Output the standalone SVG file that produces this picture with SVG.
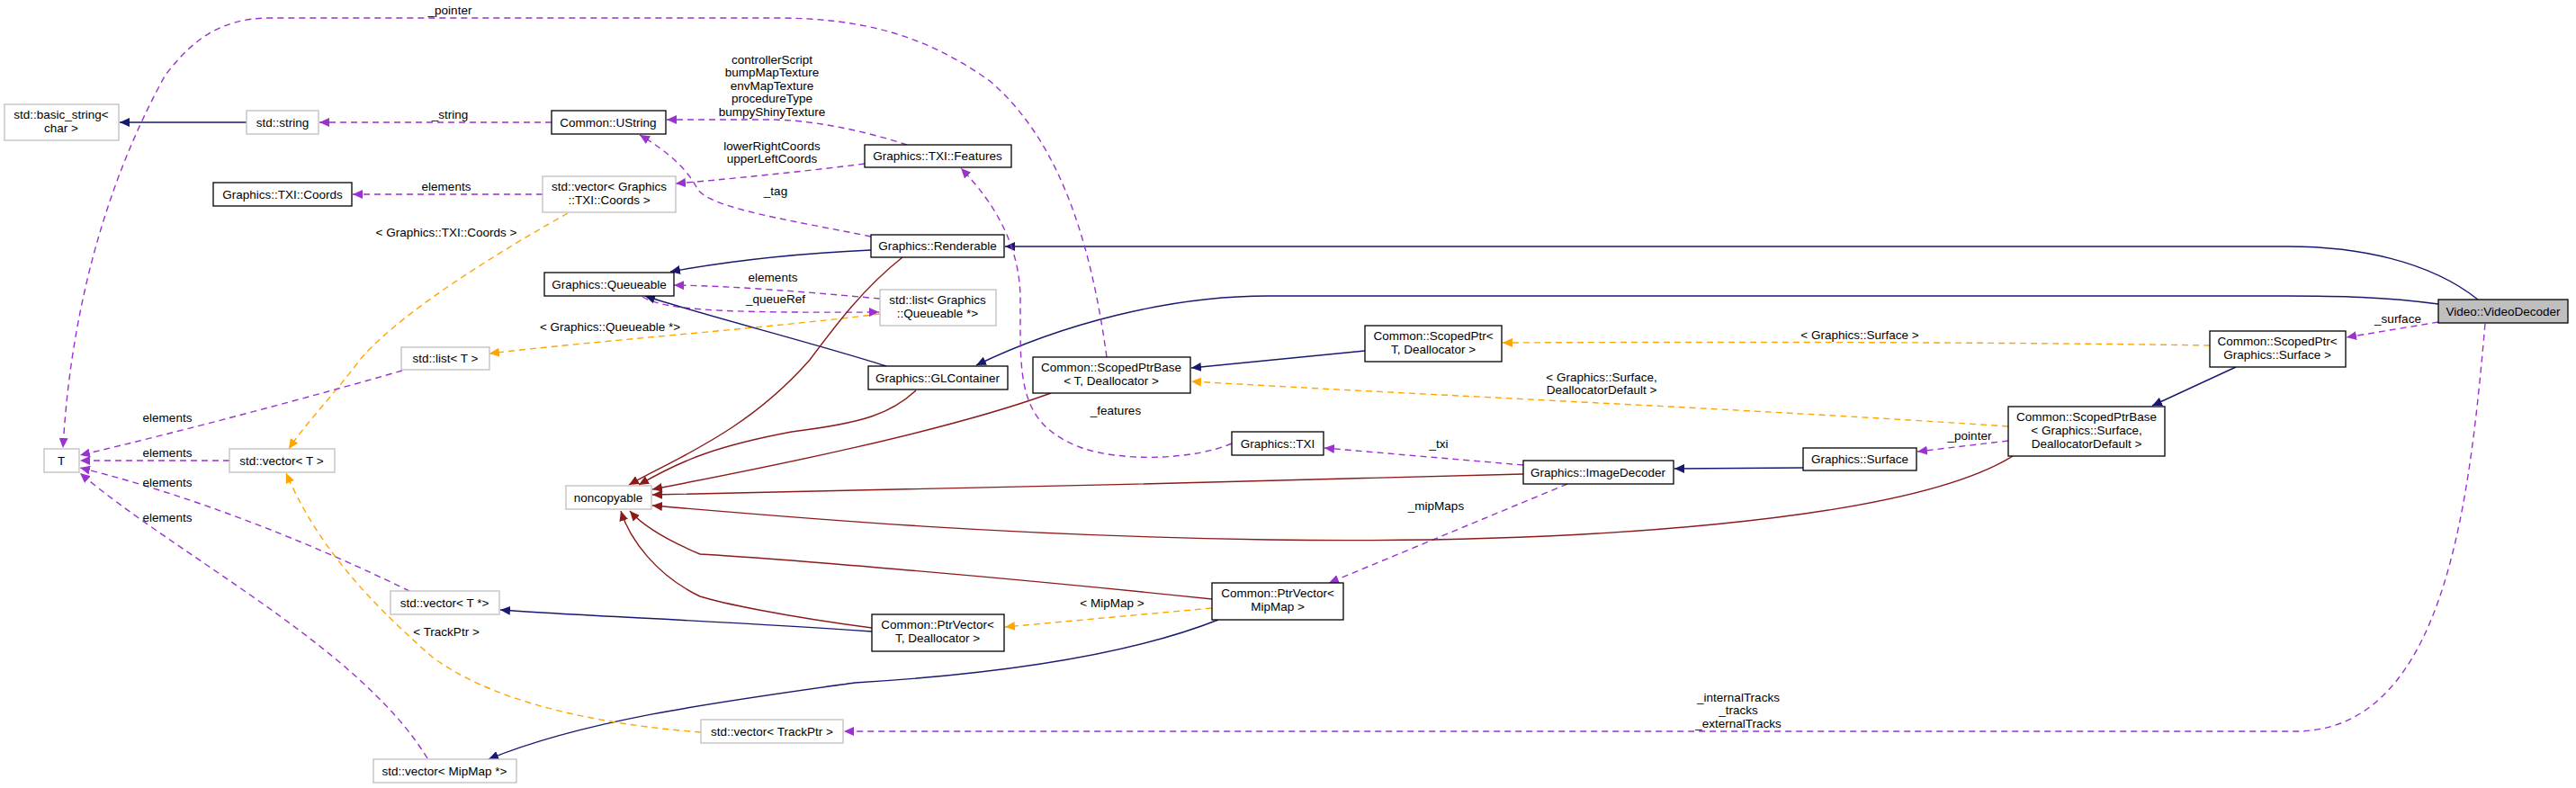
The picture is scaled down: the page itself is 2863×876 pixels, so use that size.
<svg xmlns="http://www.w3.org/2000/svg" width="2863" height="876" viewBox="0 0 2863 876">
<style>
text{font-family:"Liberation Sans",Arial,sans-serif;font-size:13.5px;fill:#000;text-anchor:middle}
.n rect{fill:#fff;stroke:#000;stroke-width:1.3}
.g rect{fill:#fff;stroke:#bfbfbf;stroke-width:1.3}
.cur rect{fill:#bfbfbf;stroke:#000;stroke-width:1.3}
.e{fill:none;stroke-width:1.4}
.nv{stroke:#191970;marker-end:url(#aN)}
.rd{stroke:#8b1a1a;marker-end:url(#aR)}
.pu{stroke:#9a32cd;stroke-dasharray:7,5;marker-end:url(#aP)}
.or{stroke:#ffa500;stroke-dasharray:7,5;marker-end:url(#aO)}
</style>
<defs>
<marker id="aN" markerWidth="12" markerHeight="10" refX="11" refY="5" orient="auto" markerUnits="userSpaceOnUse"><path d="M0,0L11,5L0,10z" fill="#191970"/></marker>
<marker id="aR" markerWidth="12" markerHeight="10" refX="11" refY="5" orient="auto" markerUnits="userSpaceOnUse"><path d="M0,0L11,5L0,10z" fill="#8b1a1a"/></marker>
<marker id="aP" markerWidth="12" markerHeight="10" refX="11" refY="5" orient="auto" markerUnits="userSpaceOnUse"><path d="M0,0L11,5L0,10z" fill="#9a32cd"/></marker>
<marker id="aO" markerWidth="12" markerHeight="10" refX="11" refY="5" orient="auto" markerUnits="userSpaceOnUse"><path d="M0,0L11,5L0,10z" fill="#ffa500"/></marker>
</defs>
<rect width="2863" height="876" fill="#fff"/>
<g id="edges">
<path class="e nv" d="M274,136L133,136"/>
<path class="e pu" d="M613,136L355,136"/>
<path class="e pu" d="M1008,161C960,145 900,133 857,133C800,133 770,133 741,133"/>
<path class="e pu" d="M961,182C900,190 800,200 751,204"/>
<path class="e pu" d="M968,263C880,245 790,232 775,210C765,190 745,170 711,150"/>
<path class="e pu" d="M603,216L392,216"/>
<path class="e or" d="M631,237C590,260 450,340 400,400C370,440 340,470 321,499"/>
<path class="e nv" d="M968,278C880,282 800,292 745,302"/>
<path class="e pu" d="M978,332C900,325 820,318 749,317"/>
<path class="e pu" d="M714,330C740,345 800,348 977,347"/>
<path class="e or" d="M978,349C850,365 650,380 544,393"/>
<path class="e nv" d="M985,407C900,380 780,350 717,329"/>
<path class="e nv" d="M2754,333C2700,290 2620,274 2543,274L1117,274"/>
<path class="e nv" d="M2710,338C2650,330 2600,329 2537,329L1409,329C1300,329 1180,360 1085,406"/>
<path class="e nv" d="M1517,390L1324,409"/>
<path class="e or" d="M2456,384C2200,380 1900,380 1670,381"/>
<path class="e or" d="M2232,474C1950,455 1600,440 1324,424"/>
<path class="e nv" d="M2485,408L2392,451"/>
<path class="e pu" d="M2710,358L2608,375"/>
<path class="e pu" d="M2232,490L2131,502"/>
<path class="e pu" d="M1230,397C1210,250 1170,150 1100,90C1030,40 960,20 863,20L300,20C240,20 210,50 184,83C130,180 80,320 70,498"/>
<path class="e pu" d="M1369,493C1330,510 1250,515 1200,497C1130,470 1134,420 1134,333C1134,260 1090,210 1068,187"/>
<path class="e pu" d="M1693,517L1472,498"/>
<path class="e nv" d="M2004,520L1861,521"/>
<path class="e pu" d="M1742,538L1477,648"/>
<path class="e or" d="M1347,676L1117,697"/>
<path class="e nv" d="M969,702C800,690 650,685 556,678"/>
<path class="e nv" d="M1354,689C1250,730 1100,750 950,759C800,780 650,800 543,844"/>
<path class="e pu" d="M455,657C400,630 250,560 89,520"/>
<path class="e pu" d="M255,512L89,512"/>
<path class="e pu" d="M447,412C350,440 200,480 89,506"/>
<path class="e pu" d="M475,843C400,720 200,620 89,526"/>
<path class="e or" d="M779,814C700,808 560,790 480,730C400,660 350,600 318,526"/>
<path class="e pu" d="M2762,360C2745,550 2720,813 2551,813L938,813"/>
<path class="e rd" d="M1003,286C960,320 930,360 900,400C830,480 750,510 699,539"/>
<path class="e rd" d="M1018,434C990,460 960,470 880,480C800,495 760,510 710,539"/>
<path class="e rd" d="M1168,437C1050,480 850,520 725,544"/>
<path class="e rd" d="M1693,527C1400,535 1000,545 725,550"/>
<path class="e rd" d="M2237,507C2120,580 1750,605 1410,600C1100,595 880,575 725,562"/>
<path class="e rd" d="M1347,666C1100,640 850,620 778,616C740,600 715,585 700,568"/>
<path class="e rd" d="M969,698C870,685 800,670 778,663C730,640 700,600 690,568"/>
</g>
<g id="basic_string" class="g"><rect x="5" y="116" width="127" height="40"/><text x="68" y="132">std::basic_string&lt;</text><text x="68" y="147">char &gt;</text></g>
<g id="std_string" class="g"><rect x="274" y="123" width="80" height="26"/><text x="314" y="141">std::string</text></g>
<g id="UString" class="n"><rect x="613" y="123" width="127" height="26"/><text x="676" y="141">Common::UString</text></g>
<g id="TXICoords" class="n"><rect x="237" y="203" width="154" height="26"/><text x="314" y="221">Graphics::TXI::Coords</text></g>
<g id="vecCoords" class="g"><rect x="603" y="196" width="148" height="40"/><text x="677" y="212">std::vector&lt; Graphics</text><text x="677" y="227">::TXI::Coords &gt;</text></g>
<g id="Queueable" class="n"><rect x="605" y="303" width="144" height="26"/><text x="677" y="321">Graphics::Queueable</text></g>
<g id="listT" class="g"><rect x="446" y="386" width="98" height="25"/><text x="495" y="403">std::list&lt; T &gt;</text></g>
<g id="T" class="g"><rect x="49" y="499" width="39" height="26"/><text x="68" y="517">T</text></g>
<g id="vecT" class="g"><rect x="255" y="499" width="117" height="26"/><text x="313" y="517">std::vector&lt; T &gt;</text></g>
<g id="noncopyable" class="g"><rect x="629" y="540" width="95" height="26"/><text x="676" y="558">noncopyable</text></g>
<g id="vecTptr" class="g"><rect x="434" y="657" width="121" height="26"/><text x="494" y="675">std::vector&lt; T *&gt;</text></g>
<g id="vecTrackPtr" class="g"><rect x="779" y="800" width="158" height="26"/><text x="858" y="818">std::vector&lt; TrackPtr &gt;</text></g>
<g id="vecMipMap" class="g"><rect x="415" y="844" width="159" height="26"/><text x="494" y="862">std::vector&lt; MipMap *&gt;</text></g>
<g id="TXIFeatures" class="n"><rect x="961" y="161" width="163" height="25"/><text x="1042" y="178">Graphics::TXI::Features</text></g>
<g id="Renderable" class="n"><rect x="968" y="261" width="148" height="25"/><text x="1042" y="278">Graphics::Renderable</text></g>
<g id="listQueueable" class="g"><rect x="978" y="322" width="129" height="40"/><text x="1042" y="338">std::list&lt; Graphics</text><text x="1042" y="353">::Queueable *&gt;</text></g>
<g id="GLContainer" class="n"><rect x="965" y="407" width="155" height="26"/><text x="1042" y="425">Graphics::GLContainer</text></g>
<g id="ScopedPtrBaseT" class="n"><rect x="1148" y="397" width="175" height="40"/><text x="1235" y="413">Common::ScopedPtrBase</text><text x="1235" y="428">&lt; T, Deallocator &gt;</text></g>
<g id="ScopedPtrT" class="n"><rect x="1517" y="362" width="152" height="40"/><text x="1593" y="378">Common::ScopedPtr&lt;</text><text x="1593" y="393">T, Deallocator &gt;</text></g>
<g id="TXI" class="n"><rect x="1369" y="480" width="102" height="26"/><text x="1420" y="498">Graphics::TXI</text></g>
<g id="ImageDecoder" class="n"><rect x="1693" y="512" width="167" height="26"/><text x="1776" y="530">Graphics::ImageDecoder</text></g>
<g id="PtrVectorMipMap" class="n"><rect x="1347" y="648" width="146" height="41"/><text x="1420" y="664">Common::PtrVector&lt;</text><text x="1420" y="679">MipMap &gt;</text></g>
<g id="PtrVectorT" class="n"><rect x="969" y="683" width="147" height="41"/><text x="1042" y="699">Common::PtrVector&lt;</text><text x="1042" y="714">T, Deallocator &gt;</text></g>
<g id="Surface" class="n"><rect x="2004" y="498" width="126" height="25"/><text x="2067" y="515">Graphics::Surface</text></g>
<g id="ScopedPtrBaseSurface" class="n"><rect x="2232" y="452" width="174" height="55"/><text x="2319" y="468">Common::ScopedPtrBase</text><text x="2319" y="483">&lt; Graphics::Surface,</text><text x="2319" y="498">DeallocatorDefault &gt;</text></g>
<g id="ScopedPtrSurface" class="n"><rect x="2456" y="368" width="151" height="40"/><text x="2531" y="384">Common::ScopedPtr&lt;</text><text x="2531" y="399">Graphics::Surface &gt;</text></g>
<g id="VideoDecoder" class="cur"><rect x="2710" y="333" width="144" height="26"/><text x="2782" y="351">Video::VideoDecoder</text></g>
<g id="labels">
<text x="500" y="16">_pointer</text>
<text x="500" y="132">_string</text>
<text x="858" y="71">controllerScript</text>
<text x="858" y="85">bumpMapTexture</text>
<text x="858" y="100">envMapTexture</text>
<text x="858" y="114">procedureType</text>
<text x="858" y="129">bumpyShinyTexture</text>
<text x="858" y="167">lowerRightCoords</text>
<text x="858" y="181">upperLeftCoords</text>
<text x="496" y="212">elements</text>
<text x="862" y="217">_tag</text>
<text x="496" y="263">&lt; Graphics::TXI::Coords &gt;</text>
<text x="859" y="313">elements</text>
<text x="862" y="337">_queueRef</text>
<text x="678" y="368">&lt; Graphics::Queueable *&gt;</text>
<text x="186" y="469">elements</text>
<text x="186" y="508">elements</text>
<text x="186" y="541">elements</text>
<text x="186" y="580">elements</text>
<text x="496" y="707">&lt; TrackPtr &gt;</text>
<text x="1240" y="461">_features</text>
<text x="1599" y="498">_txi</text>
<text x="1596" y="567">_mipMaps</text>
<text x="1236" y="675">&lt; MipMap &gt;</text>
<text x="1780" y="424">&lt; Graphics::Surface,</text>
<text x="1780" y="438">DeallocatorDefault &gt;</text>
<text x="2067" y="377">&lt; Graphics::Surface &gt;</text>
<text x="2665" y="359">_surface</text>
<text x="2189" y="489">_pointer</text>
<text x="1932" y="780">_internalTracks</text>
<text x="1932" y="794">_tracks</text>
<text x="1932" y="809">_externalTracks</text>
</g>
</svg>
